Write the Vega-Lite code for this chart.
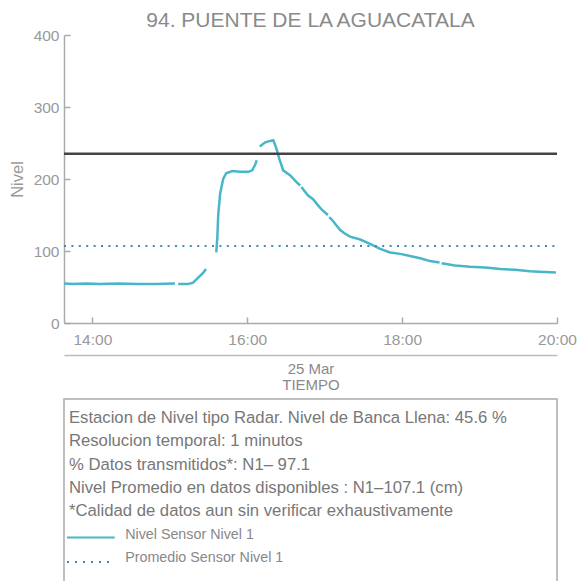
{
  "$schema": "https://vega.github.io/schema/vega-lite/v6.json",
  "padding": {"left": 9, "top": 10, "right": 0, "bottom": 0},
  "config": {"font": "Liberation Sans", "view": {"stroke": null}, "concat": {"spacing": 6}},
  "datasets": {
    "nivel": [
      {"t": "2025-03-25T13:38:00", "nivel": 55},
      {"t": "2025-03-25T13:45:00", "nivel": 54},
      {"t": "2025-03-25T13:55:00", "nivel": 55},
      {"t": "2025-03-25T14:06:00", "nivel": 54},
      {"t": "2025-03-25T14:20:00", "nivel": 55},
      {"t": "2025-03-25T14:35:00", "nivel": 54},
      {"t": "2025-03-25T14:50:00", "nivel": 54},
      {"t": "2025-03-25T15:04:00", "nivel": 55},
      {"t": "2025-03-25T15:05:00", "nivel": null},
      {"t": "2025-03-25T15:06:30", "nivel": 54},
      {"t": "2025-03-25T15:14:00", "nivel": 54},
      {"t": "2025-03-25T15:18:00", "nivel": 56},
      {"t": "2025-03-25T15:22:00", "nivel": 63},
      {"t": "2025-03-25T15:26:00", "nivel": 70},
      {"t": "2025-03-25T15:28:00", "nivel": 75},
      {"t": "2025-03-25T15:31:00", "nivel": null},
      {"t": "2025-03-25T15:36:00", "nivel": 98},
      {"t": "2025-03-25T15:36:50", "nivel": 120},
      {"t": "2025-03-25T15:37:30", "nivel": 150},
      {"t": "2025-03-25T15:39:00", "nivel": 180},
      {"t": "2025-03-25T15:41:20", "nivel": 200},
      {"t": "2025-03-25T15:43:40", "nivel": 208},
      {"t": "2025-03-25T15:48:20", "nivel": 211},
      {"t": "2025-03-25T15:54:30", "nivel": 210},
      {"t": "2025-03-25T16:00:50", "nivel": 210},
      {"t": "2025-03-25T16:03:50", "nivel": 212},
      {"t": "2025-03-25T16:06:10", "nivel": 220},
      {"t": "2025-03-25T16:07:20", "nivel": 226},
      {"t": "2025-03-25T16:08:30", "nivel": null},
      {"t": "2025-03-25T16:09:40", "nivel": 245},
      {"t": "2025-03-25T16:14:00", "nivel": 251},
      {"t": "2025-03-25T16:17:50", "nivel": 253},
      {"t": "2025-03-25T16:20:10", "nivel": 254},
      {"t": "2025-03-25T16:22:30", "nivel": 243},
      {"t": "2025-03-25T16:24:50", "nivel": 228},
      {"t": "2025-03-25T16:27:50", "nivel": 212},
      {"t": "2025-03-25T16:33:20", "nivel": 205},
      {"t": "2025-03-25T16:38:00", "nivel": 196},
      {"t": "2025-03-25T16:41:00", "nivel": 191},
      {"t": "2025-03-25T16:41:30", "nivel": null},
      {"t": "2025-03-25T16:42:00", "nivel": 189},
      {"t": "2025-03-25T16:44:00", "nivel": 184},
      {"t": "2025-03-25T16:47:10", "nivel": 177},
      {"t": "2025-03-25T16:51:00", "nivel": 172},
      {"t": "2025-03-25T16:55:00", "nivel": 163},
      {"t": "2025-03-25T16:58:00", "nivel": 157},
      {"t": "2025-03-25T17:01:10", "nivel": 152},
      {"t": "2025-03-25T17:02:30", "nivel": 150},
      {"t": "2025-03-25T17:03:00", "nivel": null},
      {"t": "2025-03-25T17:03:30", "nivel": 147},
      {"t": "2025-03-25T17:05:50", "nivel": 143},
      {"t": "2025-03-25T17:08:50", "nivel": 136},
      {"t": "2025-03-25T17:12:00", "nivel": 129},
      {"t": "2025-03-25T17:15:50", "nivel": 124},
      {"t": "2025-03-25T17:19:40", "nivel": 120},
      {"t": "2025-03-25T17:27:30", "nivel": 116},
      {"t": "2025-03-25T17:35:10", "nivel": 110},
      {"t": "2025-03-25T17:43:00", "nivel": 103},
      {"t": "2025-03-25T17:50:40", "nivel": 98},
      {"t": "2025-03-25T17:58:30", "nivel": 96},
      {"t": "2025-03-25T18:06:10", "nivel": 93},
      {"t": "2025-03-25T18:14:00", "nivel": 90},
      {"t": "2025-03-25T18:21:40", "nivel": 86},
      {"t": "2025-03-25T18:29:00", "nivel": 84},
      {"t": "2025-03-25T18:29:40", "nivel": null},
      {"t": "2025-03-25T18:30:40", "nivel": 83},
      {"t": "2025-03-25T18:41:00", "nivel": 80},
      {"t": "2025-03-25T18:52:40", "nivel": 78},
      {"t": "2025-03-25T19:04:20", "nivel": 77},
      {"t": "2025-03-25T19:16:00", "nivel": 75},
      {"t": "2025-03-25T19:27:30", "nivel": 74},
      {"t": "2025-03-25T19:39:00", "nivel": 72},
      {"t": "2025-03-25T19:50:40", "nivel": 71},
      {"t": "2025-03-25T19:59:10", "nivel": 70}
    ],
    "referencias": [
      {"serie": "Banca llena", "nivel": 235, "inicio": "2025-03-25T13:38:00", "fin": "2025-03-25T20:00:00"},
      {"serie": "Promedio Sensor Nivel 1", "nivel": 107.1, "inicio": "2025-03-25T13:38:00", "fin": "2025-03-25T20:00:00"}
    ],
    "info": [
      {"fila": 1, "tipo": "info", "texto": "Estacion de Nivel tipo Radar. Nivel de Banca Llena: 45.6 %"},
      {"fila": 2, "tipo": "info", "texto": "Resolucion temporal: 1 minutos"},
      {"fila": 3, "tipo": "info", "texto": "% Datos transmitidos*: N1– 97.1"},
      {"fila": 4, "tipo": "info", "texto": "Nivel Promedio en datos disponibles : N1–107.1 (cm)"},
      {"fila": 5, "tipo": "info", "texto": "*Calidad de datos aun sin verificar exhaustivamente"},
      {"fila": 6, "tipo": "leyenda", "texto": "Nivel Sensor Nivel 1"},
      {"fila": 7, "tipo": "leyenda", "texto": "Promedio Sensor Nivel 1"}
    ]
  },
  "vconcat": [
    {
      "width": 493,
      "height": 288,
      "title": {"text": "94. PUENTE DE LA AGUACATALA", "fontSize": 21, "fontWeight": "normal", "color": "#8a8a8a", "anchor": "middle", "frame": "group", "offset": -3},
      "layer": [
        {
          "data": {"name": "nivel"},
          "mark": {"type": "line", "color": "#47b6c6", "strokeWidth": 2.5},
          "encoding": {
            "x": {
              "field": "t", "type": "temporal",
              "scale": {"domain": [{"year": 2025, "month": 3, "date": 25, "hours": 13, "minutes": 38}, {"year": 2025, "month": 3, "date": 25, "hours": 20, "minutes": 0}], "nice": false},
              "axis": {
                "title": null, "format": "%H:%M",
                "values": [{"year": 2025, "month": 3, "date": 25, "hours": 14}, {"year": 2025, "month": 3, "date": 25, "hours": 16}, {"year": 2025, "month": 3, "date": 25, "hours": 18}, {"year": 2025, "month": 3, "date": 25, "hours": 20}],
                "tickSize": -6, "labelPadding": 15, "domainColor": "#aaaaaa", "domainWidth": 1.5, "tickColor": "#aaaaaa", "tickWidth": 1.5,
                "labelColor": "#999999", "labelFontSize": 15.5, "grid": false, "labelFlush": false
              }
            },
            "y": {
              "field": "nivel", "type": "quantitative", "title": "Nivel",
              "scale": {"domain": [0, 400], "nice": false},
              "axis": {
                "values": [0, 100, 200, 300, 400], "tickSize": -6, "labelPadding": 11,
                "domainColor": "#aaaaaa", "domainWidth": 1.5, "tickColor": "#aaaaaa", "tickWidth": 1.5,
                "labelColor": "#999999", "labelFontSize": 15.5, "titleColor": "#999999", "titleFontSize": 16.5,
                "titleFontWeight": "normal", "titlePadding": 8, "grid": false
              }
            }
          }
        },
        {
          "data": {"name": "referencias"},
          "transform": [{"filter": "datum.serie === 'Banca llena'"}],
          "mark": {"type": "rule", "color": "#444444", "strokeWidth": 2.5},
          "encoding": {
            "x": {
              "field": "inicio", "type": "temporal",
              "scale": {"domain": [{"year": 2025, "month": 3, "date": 25, "hours": 13, "minutes": 38}, {"year": 2025, "month": 3, "date": 25, "hours": 20, "minutes": 0}], "nice": false},
              "axis": {
                "orient": "bottom", "offset": 32, "labels": false, "ticks": false, "grid": false,
                "domain": true, "domainColor": "#bbbbbb", "domainWidth": 1.5,
                "title": ["25 Mar", "TIEMPO"], "titleColor": "#8a8a8a", "titleFontSize": 15,
                "titleFontWeight": "normal", "titlePadding": 6, "titleLineHeight": 16
              }
            },
            "x2": {"field": "fin"},
            "y": {"field": "nivel", "type": "quantitative", "title": "Nivel"}
          }
        },
        {
          "data": {"name": "referencias"},
          "transform": [{"filter": "datum.serie === 'Promedio Sensor Nivel 1'"}],
          "mark": {"type": "rule", "color": "#3d8db0", "strokeWidth": 2, "strokeDash": [2, 5.4]},
          "encoding": {
            "x": {
              "field": "inicio", "type": "temporal",
              "scale": {"domain": [{"year": 2025, "month": 3, "date": 25, "hours": 13, "minutes": 38}, {"year": 2025, "month": 3, "date": 25, "hours": 20, "minutes": 0}], "nice": false},
              "axis": null
            },
            "x2": {"field": "fin"},
            "y": {"field": "nivel", "type": "quantitative", "title": "Nivel"}
          }
        }
      ],
      "resolve": {"axis": {"x": "independent"}}
    },
    {
      "width": 493,
      "height": 185,
      "view": {"stroke": "#aaaaaa", "strokeWidth": 1.5},
      "data": {"name": "info"},
      "layer": [
        {
          "transform": [{"filter": "datum.tipo === 'info'"}],
          "mark": {"type": "text", "align": "left", "baseline": "middle", "fontSize": 16.7, "color": "#777777"},
          "encoding": {
            "x": {"datum": 1, "type": "quantitative", "scale": {"domain": [0, 100]}, "axis": null},
            "y": {"field": "fila", "type": "quantitative", "scale": {"domain": [0.18, 8.12], "reverse": true, "nice": false, "zero": false}, "axis": null},
            "text": {"field": "texto"}
          }
        },
        {
          "transform": [{"filter": "datum.tipo === 'leyenda'"}],
          "mark": {"type": "text", "align": "left", "baseline": "middle", "fontSize": 14.3, "color": "#888888"},
          "encoding": {
            "x": {"datum": 12.4, "type": "quantitative"},
            "y": {"field": "fila", "type": "quantitative"},
            "text": {"field": "texto"}
          }
        },
        {
          "transform": [{"filter": "datum.texto === 'Nivel Sensor Nivel 1'"}],
          "mark": {"type": "rule", "color": "#47b6c6", "strokeWidth": 2, "yOffset": 3},
          "encoding": {
            "x": {"datum": 0.6, "type": "quantitative"},
            "x2": {"datum": 10.3},
            "y": {"field": "fila", "type": "quantitative"}
          }
        },
        {
          "transform": [{"filter": "datum.texto === 'Promedio Sensor Nivel 1'"}],
          "mark": {"type": "rule", "color": "#3d8db0", "strokeWidth": 2, "strokeDash": [2, 6], "yOffset": 4},
          "encoding": {
            "x": {"datum": 0.6, "type": "quantitative"},
            "x2": {"datum": 10.3},
            "y": {"field": "fila", "type": "quantitative"}
          }
        }
      ]
    }
  ]
}
